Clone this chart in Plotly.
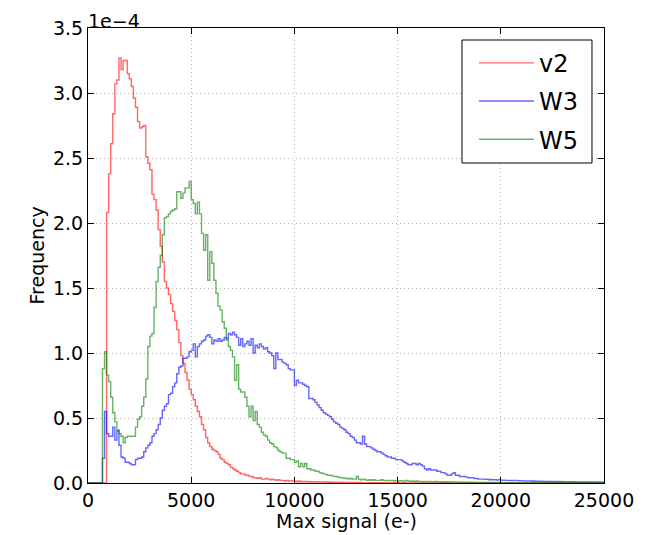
import plotly.graph_objects as go

# Bin edges: 0..25000 step 100 (250 bins); values in units of 1e-4
bin_width = 100
n_bins = 250

v2 = [
    0, 0, 0, 0, 0, 0, 0, 0, 0, 2.08,
    2.38, 2.61, 2.84, 3.07, 3.10, 3.27, 3.18, 3.25, 3.25, 3.15,
    3.11, 3.05, 2.96, 2.89, 2.78, 2.73, 2.74, 2.75, 2.51, 2.46,
    2.41, 2.22, 2.18, 2.10, 1.95, 1.82, 1.70, 1.55, 1.50, 1.45,
    1.38, 1.32, 1.25, 1.18, 1.08, 0.98, 0.92, 0.85, 0.79, 0.72,
    0.68, 0.64, 0.59, 0.55, 0.51, 0.45, 0.41, 0.35, 0.31, 0.28,
    0.26, 0.25, 0.24, 0.22, 0.19, 0.18, 0.16, 0.15, 0.14, 0.12,
    0.11, 0.10, 0.09, 0.08, 0.07, 0.07, 0.06, 0.06, 0.05, 0.05,
    0.04, 0.04, 0.035, 0.04, 0.03, 0.03, 0.035, 0.03, 0.025, 0.03,
    0.025, 0.02, 0.025, 0.02, 0.02, 0.015, 0.02, 0.015, 0.015, 0.02,
    0.015, 0.01, 0.015, 0.01, 0.012, 0.01, 0.012, 0.008, 0.01, 0.01,
    0.008, 0.01, 0.008, 0.008, 0.006, 0.008, 0.006, 0.008, 0.006, 0.005,
    0.006, 0.005, 0.006, 0.004, 0.005, 0.004, 0.005, 0.004, 0.004, 0.003,
    0.004, 0.003, 0.004, 0.003, 0.003, 0.003, 0.002, 0.003, 0.002, 0.003,
    0.002, 0.002, 0.003, 0.002, 0.002, 0.002, 0.001, 0.002, 0.002, 0.001,
    0.002, 0.001, 0.001, 0.002, 0.001, 0.001, 0.001, 0.001, 0.001, 0.001,
    0.001, 0.001, 0.001, 0.001, 0.001, 0.001, 0.001, 0.001, 0.001, 0.001,
    0.001, 0.001, 0.001, 0.001, 0.001, 0.001, 0.001, 0.001, 0.001, 0.001,
    0.001, 0.001, 0.001, 0.001, 0.001, 0.001, 0.001, 0.001, 0.001, 0.001,
    0.001, 0.001, 0.001, 0.001, 0.001, 0.001, 0.001, 0.001, 0.001, 0.001,
    0.001, 0.001, 0.001, 0.001, 0.001, 0.001, 0.001, 0.001, 0.001, 0.001,
    0.001, 0.001, 0.001, 0.001, 0.001, 0.001, 0.001, 0.001, 0.001, 0.001,
    0.001, 0.001, 0.001, 0.001, 0.001, 0.001, 0.001, 0.001, 0.001, 0.001,
    0.001, 0.001, 0.001, 0.001, 0.001, 0.001, 0.001, 0.001, 0.001, 0.001,
    0.001, 0.001, 0.001, 0.001, 0.001, 0.001, 0.001, 0.001, 0.001, 0.001,
]

W3 = [
    0, 0, 0, 0, 0, 0, 0, 0.19, 0.55, 0.38,
    0.36, 0.36, 0.43, 0.33, 0.40, 0.29, 0.20, 0.19, 0.16, 0.16,
    0.15, 0.14, 0.14, 0.18, 0.19, 0.19, 0.20, 0.24, 0.27, 0.29,
    0.31, 0.36, 0.38, 0.41, 0.45, 0.50, 0.56, 0.59, 0.61, 0.68,
    0.69, 0.74, 0.77, 0.84, 0.89, 0.90, 0.96, 0.96, 0.97, 1.01,
    1.02, 1.07, 0.97, 1.05, 1.07, 1.09, 1.10, 1.13, 1.14, 1.12,
    1.07, 1.10, 1.09, 1.11, 1.09, 1.10, 1.12, 1.11, 1.15, 1.14,
    1.16, 1.14, 1.12, 1.06, 1.11, 1.05, 1.07, 1.09, 1.06, 1.11,
    1.00, 1.06, 1.04, 1.07, 1.05, 1.03, 1.04, 1.01, 1.00, 0.98,
    0.88, 1.00, 0.95, 0.95, 0.93, 0.92, 0.91, 0.88, 0.87, 0.87,
    0.75, 0.79, 0.77, 0.77, 0.76, 0.75, 0.74, 0.65, 0.65, 0.64,
    0.62, 0.60, 0.58, 0.56, 0.54, 0.53, 0.52, 0.51, 0.49, 0.47,
    0.46, 0.45, 0.43, 0.42, 0.41, 0.39, 0.38, 0.36, 0.35, 0.33,
    0.31, 0.31, 0.30, 0.36, 0.30, 0.28, 0.28, 0.27, 0.26, 0.25,
    0.24, 0.24, 0.23, 0.22, 0.21, 0.20, 0.20, 0.19, 0.19, 0.18,
    0.18, 0.18, 0.17, 0.16, 0.15, 0.14, 0.14, 0.15, 0.15, 0.14,
    0.15, 0.14, 0.13, 0.11, 0.10, 0.11, 0.10, 0.10, 0.10, 0.09,
    0.09, 0.08, 0.08, 0.07, 0.06, 0.06, 0.07, 0.08, 0.06, 0.06,
    0.05, 0.05, 0.05, 0.045, 0.04, 0.04, 0.04, 0.035, 0.035, 0.03,
    0.03, 0.03, 0.028, 0.03, 0.025, 0.028, 0.025, 0.025, 0.022, 0.025,
    0.02, 0.022, 0.02, 0.02, 0.018, 0.02, 0.018, 0.02, 0.018, 0.016,
    0.018, 0.016, 0.015, 0.016, 0.015, 0.014, 0.015, 0.013, 0.014, 0.012,
    0.013, 0.012, 0.012, 0.011, 0.012, 0.01, 0.011, 0.01, 0.011, 0.01,
    0.01, 0.01, 0.009, 0.01, 0.009, 0.01, 0.009, 0.008, 0.009, 0.008,
    0.008, 0.009, 0.008, 0.008, 0.007, 0.008, 0.007, 0.008, 0.007, 0.007,
]

W5 = [
    0, 0, 0, 0, 0, 0, 0, 0.88, 1.01, 0.83,
    0.78, 0.66, 0.54, 0.47, 0.41, 0.38, 0.36, 0.31, 0.35, 0.36,
    0.36, 0.36, 0.36, 0.43, 0.49, 0.51, 0.59, 0.66, 0.80, 1.05,
    1.13, 1.15, 1.35, 1.55, 1.66, 1.75, 1.91, 2.04, 2.05, 2.07,
    2.09, 2.10, 2.11, 2.24, 2.24, 2.19, 2.23, 2.27, 2.27, 2.32,
    2.18, 2.15, 2.07, 2.16, 2.07, 1.92, 1.79, 1.91, 1.56, 1.78,
    1.69, 1.56, 1.46, 1.36, 1.33, 1.24, 1.19, 1.10, 1.05, 1.02,
    0.97, 0.79, 0.91, 0.72, 0.70, 0.70, 0.66, 0.59, 0.51, 0.59,
    0.48, 0.55, 0.45, 0.43, 0.39, 0.37, 0.36, 0.33, 0.31, 0.30,
    0.28, 0.27, 0.25, 0.24, 0.23, 0.23, 0.19, 0.19, 0.18, 0.18,
    0.16, 0.17, 0.125, 0.15, 0.125, 0.15, 0.11, 0.11, 0.10, 0.10,
    0.09, 0.09, 0.08, 0.075, 0.07, 0.065, 0.06, 0.06, 0.055, 0.05,
    0.05, 0.045, 0.04, 0.04, 0.035, 0.036, 0.03, 0.035, 0.03, 0.03,
    0.05, 0.03, 0.025, 0.03, 0.025, 0.02, 0.025, 0.02, 0.025, 0.02,
    0.02, 0.02, 0.025, 0.02, 0.018, 0.02, 0.018, 0.02, 0.015, 0.02,
    0.015, 0.018, 0.015, 0.015, 0.02, 0.015, 0.012, 0.015, 0.012, 0.015,
    0.012, 0.012, 0.01, 0.012, 0.01, 0.012, 0.01, 0.01, 0.012, 0.01,
    0.01, 0.008, 0.01, 0.008, 0.01, 0.008, 0.008, 0.008, 0.007, 0.008,
    0.007, 0.006, 0.007, 0.006, 0.006, 0.006, 0.005, 0.006, 0.005, 0.005,
    0.005, 0.004, 0.005, 0.004, 0.004, 0.004, 0.004, 0.003, 0.004, 0.003,
    0.003, 0.003, 0.003, 0.003, 0.003, 0.002, 0.003, 0.002, 0.002, 0.002,
    0.002, 0.002, 0.002, 0.002, 0.002, 0.002, 0.002, 0.002, 0.002, 0.002,
    0.002, 0.002, 0.002, 0.002, 0.002, 0.002, 0.002, 0.002, 0.002, 0.002,
    0.002, 0.002, 0.002, 0.002, 0.002, 0.002, 0.002, 0.002, 0.002, 0.002,
    0.002, 0.002, 0.002, 0.002, 0.002, 0.002, 0.002, 0.002, 0.002, 0.002,
]

x_ticks = [0, 5000, 10000, 15000, 20000, 25000]
x_tick_labels = ["0", "5000", "10000", "15000", "20000", "25000"]
y_ticks = [0.0, 0.5, 1.0, 1.5, 2.0, 2.5, 3.0, 3.5]
y_tick_labels = ["0.0", "0.5", "1.0", "1.5", "2.0", "2.5", "3.0", "3.5"]

series = [
    ("v2", v2, "rgba(255,0,0,0.6)"),
    ("W3", W3, "rgba(0,0,255,0.6)"),
    ("W5", W5, "rgba(0,128,0,0.6)"),
]

edges = [i * bin_width for i in range(n_bins + 1)]

fig = go.Figure()
for name, vals, color in series:
    ys = list(vals) + [vals[-1]]
    fig.add_trace(go.Scatter(
        x=edges, y=ys, mode="lines", name=name, legendgroup=name,
        line=dict(color=color, width=1.4, shape="hv"),
    ))

font_family = "DejaVu Sans, Verdana, sans-serif"
axis_common = dict(
    showline=True, linecolor="black", linewidth=1, mirror="allticks",
    ticks="inside", ticklen=6, tickcolor="black", automargin=False,
    showgrid=True, gridcolor="#b4b4b4", griddash="1px,3px", gridwidth=1,
    zeroline=False, tickfont=dict(size=19, color="black", family=font_family),
)

# The page body adds an 8px margin, so the figure is 8px smaller than the window
fig.update_layout(
    width=650, height=527,
    paper_bgcolor="white", plot_bgcolor="white",
    margin=dict(l=80, r=54, t=20, b=52, autoexpand=False),
    font=dict(family=font_family, color="black", size=19),
    xaxis=dict(range=[0, 25000], tickvals=x_ticks, ticktext=x_tick_labels,
               **axis_common),
    yaxis=dict(range=[0, 3.5], tickvals=y_ticks, ticktext=y_tick_labels,
               **axis_common),
    legend=dict(
        x=0.748, y=0.972, xanchor="left", yanchor="top",
        bgcolor="rgba(0,0,0,0)", borderwidth=0,
        font=dict(size=24, color="black", family=font_family),
        tracegroupgap=4, itemwidth=55,
    ),
    showlegend=True,
)

# Legend frame (matplotlib-style box around the legend entries)
fig.add_shape(
    type="rect", xref="paper", yref="paper",
    x0=0.7248, x1=0.9767, y0=0.7033, y1=0.9736,
    line=dict(color="black", width=1), fillcolor="white", layer="above",
)

fig.add_annotation(
    xref="paper", yref="paper", x=0, y=1, xanchor="left", yanchor="bottom",
    text="1e\u22124", showarrow=False, font=dict(size=19, color="black", family=font_family),
    xshift=-2, yshift=-6,
)
fig.add_annotation(
    xref="paper", yref="paper", x=0.5, y=0, xanchor="center", yanchor="middle",
    text="Max signal (e-)", showarrow=False, font=dict(size=19, color="black", family=font_family),
    yshift=-38,
)
fig.add_annotation(
    xref="paper", yref="paper", x=0, y=0.5, xanchor="center", yanchor="middle",
    text="Frequency", textangle=-90, showarrow=False,
    font=dict(size=19, color="black", family=font_family),
    xshift=-52,
)

fig.write_html("out.html")
